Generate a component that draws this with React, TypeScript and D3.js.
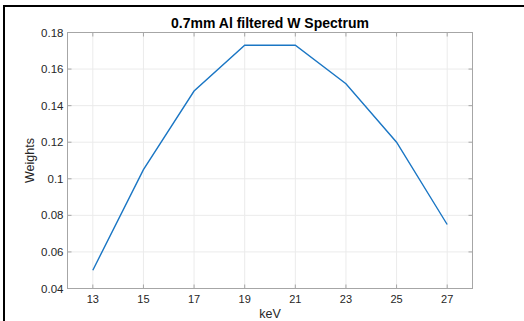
import React from "react";
import * as d3 from "d3";

const energies = [13, 15, 17, 19, 21, 23, 25, 27];
const weights = [0.05, 0.105, 0.148, 0.173, 0.173, 0.152, 0.12, 0.075];
const xTicks = [13, 15, 17, 19, 21, 23, 25, 27];
const yTicks = [0.04, 0.06, 0.08, 0.1, 0.12, 0.14, 0.16, 0.18];
const title = "0.7mm Al filtered W Spectrum";
const xLabel = "keV";
const yLabel = "Weights";

export default function App() {
  const W = 524, H = 321;
  const left = 67.5, right = 472.5, top = 32.5, bottom = 288.5;
  const x = d3.scaleLinear().domain([12, 28]).range([left, right]);
  const y = d3.scaleLinear().domain([0.04, 0.18]).range([bottom, top]);
  const line = d3.line<number>().x((_, i) => x(energies[i])).y((d) => y(d));
  const font = "'Liberation Sans', Arial, Helvetica, sans-serif";
  const tickLen = 4;
  const axisColor = "#a6a6a6";
  const textColor = "#262626";
  return (
    <svg width={W} height={H} style={{ position: "absolute", left: 0, top: 0, background: "#fff" }} fontFamily={font}>
      <rect x={0} y={0} width={W} height={H} fill="#fff" />
      {/* outer frame */}
      <line x1={3} x2={W} y1={6} y2={6} stroke="#000" strokeWidth={2} />
      <line x1={4} x2={4} y1={5} y2={H} stroke="#000" strokeWidth={2} />
      {/* grid */}
      {xTicks.map((t) => (
        <line key={"gx" + t} x1={x(t)} x2={x(t)} y1={top} y2={bottom} stroke="#ebebeb" strokeWidth={1} />
      ))}
      {yTicks.map((t) => (
        <line key={"gy" + t} x1={left} x2={right} y1={y(t)} y2={y(t)} stroke="#ebebeb" strokeWidth={1} />
      ))}
      {/* ticks */}
      {xTicks.map((t) => (
        <g key={"tx" + t}>
          <line x1={x(t)} x2={x(t)} y1={bottom} y2={bottom - tickLen} stroke={axisColor} />
          <line x1={x(t)} x2={x(t)} y1={top} y2={top + tickLen} stroke={axisColor} />
          <text x={x(t)} y={303} textAnchor="middle" fontSize={11} fill={textColor}>{t}</text>
        </g>
      ))}
      {yTicks.map((t) => (
        <g key={"ty" + t}>
          <line x1={left} x2={left + tickLen} y1={y(t)} y2={y(t)} stroke={axisColor} />
          <line x1={right} x2={right - tickLen} y1={y(t)} y2={y(t)} stroke={axisColor} />
          <text x={left - 4} y={y(t) + 4} textAnchor="end" fontSize={11.5} fill={textColor}>{d3.format("")(+t.toFixed(2))}</text>
        </g>
      ))}
      {/* box */}
      <rect x={left} y={top} width={right - left} height={bottom - top} fill="none" stroke={axisColor} strokeWidth={1} />
      {/* data */}
      <path d={line(weights) || ""} fill="none" stroke="#1a76c4" strokeWidth={1.4} />
      {/* labels */}
      <text x={(left + right) / 2} y={28} textAnchor="middle" fontSize={14} fontWeight="bold" fill="#000">{title}</text>
      <text x={(left + right) / 2} y={318} textAnchor="middle" fontSize={12.5} fill={textColor}>{xLabel}</text>
      <text transform={`translate(34, ${(top + bottom) / 2}) rotate(-90)`} textAnchor="middle" fontSize={12.5} fill={textColor}>{yLabel}</text>
    </svg>
  );
}
